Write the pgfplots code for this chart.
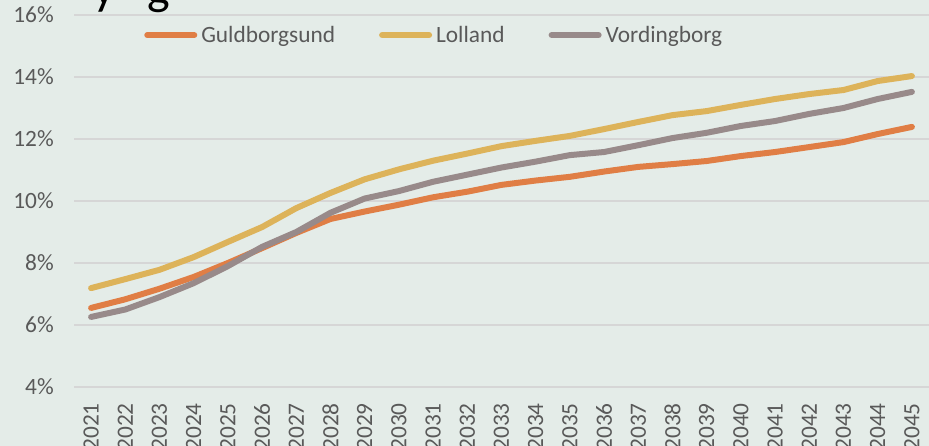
\documentclass[border=0pt]{standalone}
\usepackage{pgfplots}
\pgfplotsset{compat=1.18}
\usepackage{fontspec}
\setmainfont{Carlito}
\definecolor{bgc}{RGB}{228,236,232}
\definecolor{gridc}{RGB}{214,214,214}
\definecolor{txtc}{RGB}{89,89,89}
\definecolor{orangec}{RGB}{224,126,69}
\definecolor{goldc}{RGB}{221,179,90}
\definecolor{grayc}{RGB}{152,138,138}
\begin{document}
\begin{tikzpicture}
\path[use as bounding box] (0,0) rectangle (696.75pt,334.5pt);
\clip (0,0) rectangle (696.75pt,334.5pt);
\fill[bgc] (0,0) rectangle (696.75pt,334.5pt);
\node[anchor=base, inner sep=0pt, font=\fontsize{36}{38}\selectfont] at (78pt,331pt) {y};
\node[anchor=base, inner sep=0pt, font=\fontsize{36}{38}\selectfont] at (119pt,331pt) {g};
\begin{axis}[
  at={(55.5pt,44.25pt)}, anchor=south west,
  scale only axis, width=641.25pt, height=279pt,
  xmin=-0.5, xmax=24.5, ymin=4, ymax=16,
  ytick={4,6,...,16},
  yticklabel={\pgfmathprintnumber{\tick}\%},
  xtick={0,...,24},
  xticklabels={2021,2022,2023,2024,2025,2026,2027,2028,2029,2030,2031,2032,2033,2034,2035,2036,2037,2038,2039,2040,2041,2042,2043,2044,2045},
  /pgf/number format/assume math mode=true,
  axis line style={draw=none},
  major tick length=0pt,
  ymajorgrids,
  grid style={gridc, line width=1.5pt},
  tick label style={font=\fontsize{17.5}{20}\selectfont, text=txtc},
  xticklabel style={rotate=90, anchor=east, inner sep=0pt},
  yticklabel style={anchor=east, inner sep=0pt},
  xticklabel shift=12pt,
  yticklabel shift=15pt,
  legend columns=3,
  legend style={draw=none, fill=none, at={(0.0772,0.946)}, anchor=west,
    font=\fontsize{17.5}{20}\selectfont, text=txtc,
    /tikz/every even column/.append style={column sep=30pt},
    nodes={inner xsep=3pt}},
  legend image code/.code={\draw[#1, line width=4.5pt, line cap=round] (2.25pt,0pt) -- (37.5pt,0pt);},
  every axis plot/.append style={line width=4.5pt, line cap=round, line join=round},
]
\addplot[orangec] coordinates {
(0,6.55)(1,6.83)(2,7.17)(3,7.55)(4,8.0)(5,8.48)(6,8.97)(7,9.42)(8,9.66)(9,9.88)(10,10.12)(11,10.3)(12,10.52)(13,10.66)(14,10.78)(15,10.95)(16,11.1)(17,11.19)(18,11.29)(19,11.45)(20,11.58)(21,11.74)(22,11.9)(23,12.16)(24,12.39)};
\addlegendentry{Guldborgsund}
\addplot[goldc] coordinates {
(0,7.19)(1,7.48)(2,7.78)(3,8.19)(4,8.68)(5,9.16)(6,9.77)(7,10.26)(8,10.7)(9,11.02)(10,11.3)(11,11.53)(12,11.77)(13,11.94)(14,12.1)(15,12.32)(16,12.55)(17,12.77)(18,12.9)(19,13.1)(20,13.29)(21,13.45)(22,13.58)(23,13.87)(24,14.03)};
\addlegendentry{Lolland}
\addplot[grayc] coordinates {
(0,6.26)(1,6.5)(2,6.9)(3,7.35)(4,7.9)(5,8.52)(6,9.0)(7,9.62)(8,10.08)(9,10.32)(10,10.62)(11,10.85)(12,11.08)(13,11.27)(14,11.48)(15,11.58)(16,11.8)(17,12.03)(18,12.2)(19,12.42)(20,12.58)(21,12.81)(22,13.0)(23,13.29)(24,13.52)};
\addlegendentry{Vordingborg}
\end{axis}
\end{tikzpicture}
\end{document}
